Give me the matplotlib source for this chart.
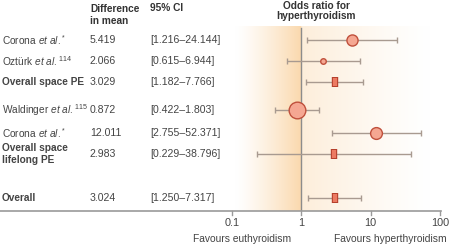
import numpy as np
import matplotlib.pyplot as plt
from matplotlib.lines import Line2D

plt.rcParams['font.family'] = ['Liberation Sans', 'DejaVu Sans']
plt.rcParams['mathtext.fontset'] = 'custom'
plt.rcParams['mathtext.rm'] = 'Liberation Sans'
plt.rcParams['mathtext.it'] = 'Liberation Sans:italic'
plt.rcParams['mathtext.bf'] = 'Liberation Sans:bold'

# data
labels = [r'Corona $\it{et\ al.}^{*}$', r'Oztürk $\it{et\ al.}^{114}$', 'Overall space PE',
          r'Waldinger $\it{et\ al.}^{115}$', r'Corona $\it{et\ al.}^{*}$',
          'Overall space\nlifelong PE', 'Overall']
bold = [False, False, True, False, False, True, True]
diff = [5.419, 2.066, 3.029, 0.872, 12.011, 2.983, 3.024]
ci_lo = [1.216, 0.615, 1.182, 0.422, 2.755, 0.229, 1.250]
ci_hi = [24.144, 6.944, 7.766, 1.803, 52.371, 38.796, 7.317]
is_pooled = [False, False, True, False, False, True, True]
marker_size = [8, 4, 0, 12, 8.5, 0, 0]

# layout (pixel rows from top)
row_y = [40, 61, 82, 110, 133, 154, 198]

W, H = 450, 246
rect = [232 / W, 1 - 211 / H, 208 / W, 185 / H]

fig = plt.figure(figsize=(W / 100, H / 100), dpi=100)

# background gradient in a plain linear axes
bg = fig.add_axes(rect, zorder=0)
lx = np.linspace(-1, 2, 600)
inten = np.where(lx < 0, np.clip(lx + 0.95, 0, 1) ** 1.25,
                 0.42 * np.clip(1 - lx / 1.85, 0, 1) ** 1.2)
peak = np.array([250, 214, 168]) / 255
img = 1 - inten[:, None] * (1 - peak)[None, :]
img = np.clip(img, 0, 1)[None, :, :]
bg.imshow(img, extent=[-1, 2, 0, 1], aspect='auto', interpolation='bilinear')
bg.set_xlim(-1, 2)
bg.set_ylim(0, 1)
bg.axis('off')

ax = fig.add_axes(rect, zorder=1)
ax.patch.set_visible(False)
ax.set_xscale('log')
ax.set_xlim(0.1, 100)
ax.set_ylim(211, 26)

ax.axvline(1, ymin=0, ymax=(211 - 28) / 185, color='#8c8c8c', lw=1, zorder=1)

for i in range(len(diff)):
    y = row_y[i]
    ax.errorbar(diff[i], y, xerr=[[diff[i] - ci_lo[i]], [ci_hi[i] - diff[i]]],
                fmt='none', ecolor='#a89a90', elinewidth=1, capsize=2.5, capthick=1, zorder=2)
    if is_pooled[i]:
        ax.plot([diff[i]] * 2, [y - 5, y + 5], color='#b5402d', lw=4.6, solid_capstyle='butt', zorder=3)
        ax.plot([diff[i]] * 2, [y - 4.2, y + 4.2], color='#ec7a62', lw=3.0, solid_capstyle='butt', zorder=4)
    else:
        ax.plot(diff[i], y, 'o', ms=marker_size[i], mfc='#f5a792', mec='#c0503c', mew=1, zorder=3)

for s in ax.spines.values():
    s.set_visible(False)
ax.set_xticks([])
ax.set_yticks([])
ax.minorticks_off()
ax.tick_params(which='both', length=0, labelbottom=False)

# bottom rule and ticks
fig.add_artist(Line2D([0, 441 / W], [1 - 211 / H] * 2, color='#9a9a9a', lw=1.2))
ticks = [0.1, 1, 10, 100]
for t in ticks:
    ax.plot([t, t], [211, 215], color='#9a9a9a', lw=1, clip_on=False)
    ax.text(t, 223, f'{t:g}', ha='center', va='center', fontsize=7.8, color='#444444')


def fy(py):
    return 1 - py / H


fig.text(242 / W, fy(239), 'Favours euthyroidism', ha='center', va='center', fontsize=7.4, color='#444444')
fig.text(390 / W, fy(239), 'Favours hyperthyroidism', ha='center', va='center', fontsize=7.4, color='#444444')

# headers
fig.text(90 / W, fy(15), 'Difference\nin mean', ha='left', va='center', fontsize=7.3,
         fontweight='bold', color='#333333', linespacing=1.15)
fig.text(150 / W, fy(8), '95% CI', ha='left', va='center', fontsize=7.3,
         fontweight='bold', color='#333333')
fig.text(316 / W, fy(11), 'Odds ratio for\nhyperthyroidism', ha='center', va='center', fontsize=7.3,
         fontweight='bold', color='#333333', linespacing=1.1)

for i in range(len(diff)):
    y = row_y[i]
    fig.text(2 / W, fy(y), labels[i], ha='left', va='center', fontsize=7.3,
             fontweight='bold' if bold[i] else 'normal', color='#444444', linespacing=1.2)
    fig.text(90 / W, fy(y), f'{diff[i]:.3f}', ha='left', va='center', fontsize=7.6, color='#444444')
    fig.text(150 / W, fy(y), f'[{ci_lo[i]:.3f}–{ci_hi[i]:.3f}]', ha='left', va='center',
             fontsize=7.6, color='#444444')

fig.savefig('out.png', dpi=100)
